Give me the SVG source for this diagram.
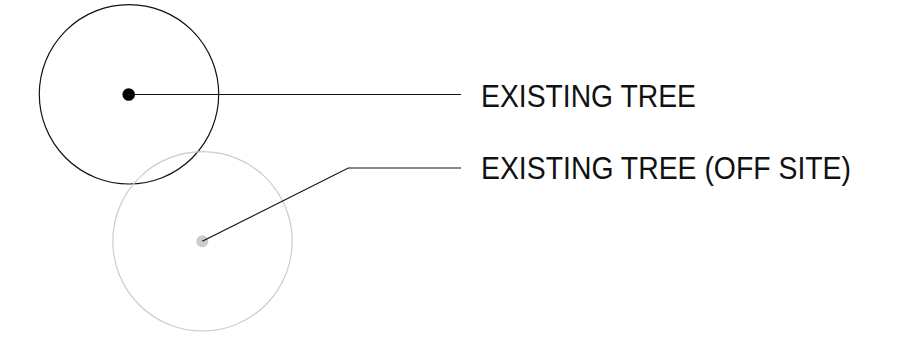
<svg xmlns="http://www.w3.org/2000/svg" width="900" height="348" viewBox="0 0 900 348">
<style>
.lbl{font-family:"Liberation Sans",Arial,sans-serif;font-size:31px;fill:#111}
.ln{fill:none;stroke:#111;stroke-width:1.2}
</style>
<rect width="900" height="348" fill="#fff"/>
<g id="tree-existing">
<circle cx="129" cy="94.3" r="89.7" fill="none" stroke="#111" stroke-width="1.2"/>
<circle cx="128.7" cy="94.5" r="6.3" fill="#000"/>
</g>
<g id="tree-offsite">
<circle cx="202.5" cy="241.3" r="89.7" fill="none" stroke="#cccccc" stroke-width="1.2"/>
<circle cx="202.3" cy="241.3" r="6" fill="#cccccc"/>
</g>
<g id="connectors">
<path class="ln" d="M128.7 94.5 H461"/>
<path class="ln" d="M202.3 241.3 L348.3 168 H461"/>
</g>
<g id="label-existing"><text class="lbl" x="481" y="106.8" textLength="215" lengthAdjust="spacingAndGlyphs">EXISTING TREE</text></g>
<g id="label-offsite"><text class="lbl" x="481" y="179.4" textLength="370" lengthAdjust="spacingAndGlyphs">EXISTING TREE (OFF SITE)</text></g>
</svg>
